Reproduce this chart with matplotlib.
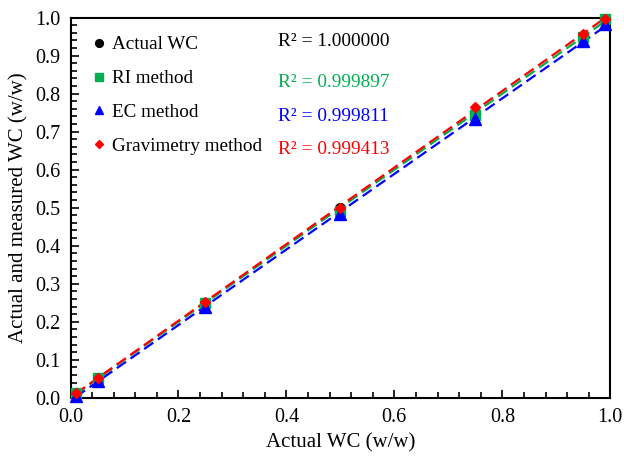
import numpy as np
import matplotlib.pyplot as plt
from matplotlib.ticker import MultipleLocator

plt.rcParams['font.family'] = ['Liberation Serif', 'DejaVu Serif']

# actual water content
x_wc = [0.01, 0.05, 0.25, 0.50, 0.75, 0.95, 0.99]
actual = [0.01, 0.05, 0.25, 0.50, 0.75, 0.95, 0.99]
ri = [0.012, 0.053, 0.250, 0.492, 0.745, 0.950, 0.997]
ec = [0.005, 0.045, 0.240, 0.483, 0.733, 0.938, 0.982]
grav = [0.012, 0.052, 0.252, 0.500, 0.765, 0.958, 0.995]

r2_labels = ['R² = 1.000000', 'R² = 0.999897', 'R² = 0.999811', 'R² = 0.999413']

fig = plt.figure(figsize=(6.24, 4.62), dpi=100)
ax = fig.add_axes([0.113, 0.139, 0.865, 0.823])

series = [
    (actual, 'black', 'o', 'Actual WC', 7),
    (ri, '#00b050', 's', 'RI method', 7),
    (ec, '#0000ff', '^', 'EC method', 8),
    (grav, '#ff0000', 'D', 'Gravimetry method', 5.5),
]

xs = np.array(x_wc)
for ys, col, mk, lab, ms in series:
    k, b = np.polyfit(xs, ys, 1)
    if col != 'black':
        ax.plot(xs, k * xs + b, '--', color=col, lw=1.6, dashes=(5, 2.5), zorder=2)
    ax.plot(xs, ys, mk, color=col, ms=ms, label=lab, zorder=3, clip_on=False)

ax.set_xlim(0, 1)
ax.set_ylim(0, 1)
ax.xaxis.set_major_locator(MultipleLocator(0.2))
ax.xaxis.set_minor_locator(MultipleLocator(0.04))
ax.yaxis.set_major_locator(MultipleLocator(0.1))
ax.yaxis.set_minor_locator(MultipleLocator(0.02))
ax.xaxis.set_major_formatter(plt.FormatStrFormatter('%.1f'))
ax.yaxis.set_major_formatter(plt.FormatStrFormatter('%.1f'))
ax.tick_params(which='both', direction='in', labelsize=14.5, width=1.2)
ax.tick_params(which='major', length=6, pad=7)
ax.tick_params(which='minor', length=4)
for s in ax.spines.values():
    s.set_linewidth(1.5)

ax.set_xlabel('Actual WC (w/w)', fontsize=15, labelpad=5)
ax.set_ylabel('Actual and measured WC (w/w)', fontsize=15, labelpad=5)

leg = ax.legend(loc='upper left', bbox_to_anchor=(-0.002, 0.997), frameon=False,
                fontsize=13.8, handletextpad=0.0, handlelength=1.3,
                labelspacing=0.86, markerscale=0.8)

r2_colors = ['black', '#00b050', '#0000ff', '#ff0000']
r2_y = [0.936, 0.83, 0.74, 0.654]
for t, c, yy in zip(r2_labels, r2_colors, r2_y):
    ax.text(0.384, yy, t, color=c, fontsize=13.9, transform=ax.transAxes, va='center')

fig.savefig('out.png', dpi=100)
